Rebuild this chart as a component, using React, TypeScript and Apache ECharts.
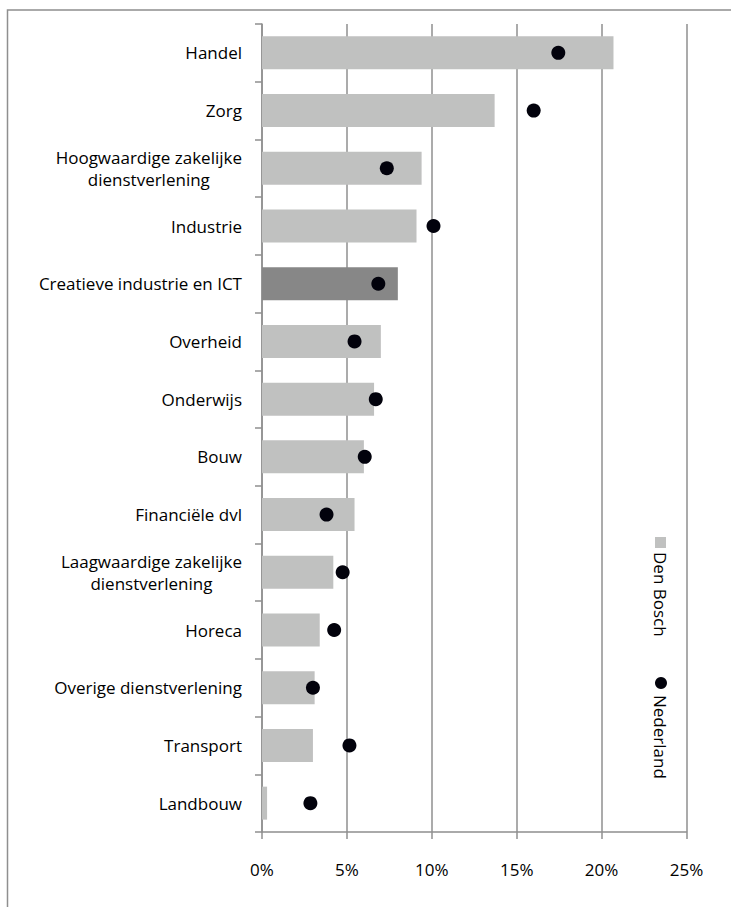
import React, { useEffect, useRef } from "react";
import * as echarts from "echarts";

const categories = [
  "Handel",
  "Zorg",
  "Hoogwaardige zakelijke\ndienstverlening",
  "Industrie",
  "Creatieve industrie en ICT",
  "Overheid",
  "Onderwijs",
  "Bouw",
  "Financiële dvl",
  "Laagwaardige zakelijke\ndienstverlening",
  "Horeca",
  "Overige dienstverlening",
  "Transport",
  "Landbouw",
];
const denBosch = [20.7, 13.7, 9.4, 9.1, 8.0, 7.0, 6.6, 6.0, 5.45, 4.2, 3.4, 3.1, 3.0, 0.3];
const nederland = [17.45, 16.0, 7.35, 10.1, 6.85, 5.45, 6.7, 6.05, 3.8, 4.75, 4.25, 3.0, 5.15, 2.85];
const highlighted = "Creatieve industrie en ICT";
const xTicks = [0, 5, 10, 15, 20, 25];
const seriesNames = ["Den Bosch", "Nederland"];

const FONT = "'Open Sans', sans-serif";
const GRID_COLOR = "#8f8f8f";
const BAR_COLOR = "#c0c1c0";
const BAR_HIGHLIGHT = "#878787";
const DOT_COLOR = "#02020c";

export default function App() {
  const ref = useRef<HTMLDivElement>(null);
  useEffect(() => {
    if (!ref.current) return;
    const chart = echarts.init(ref.current, null, { renderer: "svg" });
    const option: any = {
      animation: false,
      backgroundColor: "#fff",
      textStyle: { fontFamily: FONT },
      grid: { left: 262, right: 44.5, top: 24, bottom: 75, containLabel: false },
      xAxis: {
        type: "value",
        min: xTicks[0],
        max: xTicks[xTicks.length - 1],
        interval: 5,
        axisLine: { show: true, lineStyle: { color: GRID_COLOR, width: 1.5 } },
        axisTick: { show: true, length: 7, lineStyle: { color: GRID_COLOR, width: 1.5 } },
        splitLine: { show: true, lineStyle: { color: GRID_COLOR, width: 1.5 } },
        axisLabel: {
          formatter: "{value}%",
          color: "#000",
          fontSize: 17,
          fontFamily: FONT,
          margin: 29,
        },
      },
      yAxis: {
        type: "category",
        data: categories,
        inverse: true,
        axisLine: { show: true, lineStyle: { color: GRID_COLOR, width: 1.5 } },
        axisTick: { show: true, length: 7, lineStyle: { color: GRID_COLOR, width: 1.5 } },
        splitLine: { show: false },
        axisLabel: {
          color: "#000",
          fontSize: 17,
          fontFamily: FONT,
          margin: 20,
          lineHeight: 22,
          formatter: (v: string) =>
            v.indexOf("\n") >= 0
              ? v
                  .split("\n")
                  .map((l) => "{c|" + l + "}")
                  .join("\n")
              : v,
          rich: {
            c: { align: "center", fontSize: 17, fontFamily: FONT, color: "#000", lineHeight: 22 },
          },
        },
      },
      series: [
        {
          name: seriesNames[0],
          type: "bar",
          barWidth: 33,
          data: denBosch.map((v, i) => ({
            value: v,
            itemStyle: { color: categories[i] === highlighted ? BAR_HIGHLIGHT : BAR_COLOR },
          })),
          z: 2,
        },
        {
          name: seriesNames[1],
          type: "scatter",
          symbol: "circle",
          symbolSize: 14,
          itemStyle: { color: DOT_COLOR, opacity: 1 },
          data: nederland,
          z: 3,
        },
      ],
      graphic: [
        {
          type: "rect",
          shape: { x: 7.5, y: 10, width: 760, height: 940 },
          style: { fill: "none", stroke: GRID_COLOR, lineWidth: 1.5 },
          silent: true,
        },
        {
          type: "rect",
          shape: { x: 655, y: 537, width: 11, height: 11 },
          style: { fill: BAR_COLOR },
        },
        {
          type: "text",
          x: 660.5,
          y: 552,
          rotation: -Math.PI / 2,
          style: {
            text: seriesNames[0],
            x: 0,
            y: 0,
            align: "left",
            verticalAlign: "middle",
            fontSize: 17,
            fontFamily: FONT,
            fill: "#000",
          },
        },
        {
          type: "circle",
          shape: { cx: 661, cy: 683, r: 6 },
          style: { fill: DOT_COLOR },
        },
        {
          type: "text",
          x: 660.5,
          y: 695,
          rotation: -Math.PI / 2,
          style: {
            text: seriesNames[1],
            x: 0,
            y: 0,
            align: "left",
            verticalAlign: "middle",
            fontSize: 17,
            fontFamily: FONT,
            fill: "#000",
          },
        },
      ],
    };
    chart.setOption(option);
    return () => chart.dispose();
  }, []);
  return (
    <div
      ref={ref}
      style={{ position: "absolute", left: 0, top: 0, width: 731, height: 907 }}
    />
  );
}
